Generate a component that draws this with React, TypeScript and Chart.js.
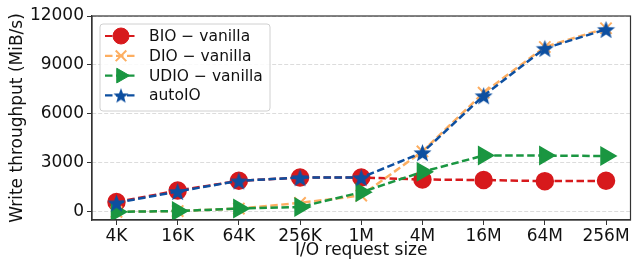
import React, { useEffect, useRef } from "react";
import { Chart, registerables } from "chart.js";
import { drawPoint } from "chart.js/helpers";

Chart.register(...registerables);

const categories = ["4K", "16K", "64K", "256K", "1M", "4M", "16M", "64M", "256M"];
const bioValues = [600, 1300, 1900, 2100, 2100, 1980, 1950, 1880, 1900];
const dioValues = [0, 50, 200, 550, 1000, 3700, 7300, 10100, 11250];
const udioValues = [0, 50, 200, 300, 1200, 2450, 3450, 3450, 3420];
const autoValues = [550, 1250, 1900, 2100, 2100, 3630, 7120, 10020, 11180];
const yTicks = [0, 3000, 6000, 9000, 12000];

const RED = "#d7191c";
const ORANGE = "#fdae61";
const GREEN = "#1a9641";
const BLUE = "#0d4fa0";
const TEXT = "#111";
const FONT = "'DejaVu Sans', sans-serif";

function makeStar(color: string, outer: number): HTMLCanvasElement {
  const size = Math.ceil(outer * 2 + 2);
  const c = document.createElement("canvas");
  c.width = size;
  c.height = size;
  const ctx = c.getContext("2d")!;
  const cx = size / 2;
  const cy = size / 2 + outer * 0.1;
  const inner = outer * 0.42;
  ctx.beginPath();
  for (let i = 0; i < 10; i++) {
    const r = i % 2 === 0 ? outer : inner;
    const a = -Math.PI / 2 + (i * Math.PI) / 5;
    const px = cx + r * Math.cos(a);
    const py = cy + r * Math.sin(a);
    if (i === 0) ctx.moveTo(px, py);
    else ctx.lineTo(px, py);
  }
  ctx.closePath();
  ctx.fillStyle = color;
  ctx.fill();
  return c;
}

export default function App() {
  const ref = useRef<HTMLCanvasElement>(null);
  useEffect(() => {
    document.body.style.margin = "0";
    const star = makeStar(BLUE, 9.5);
    const starSmall = makeStar(BLUE, 8);
    const toXY = (arr: number[]) => arr.map((v, i) => ({ x: i, y: v }));
    const dash = [7.5, 3.5];

    const legendItems = [
      { label: "BIO \u2212 vanilla", color: RED, style: "circle", radius: 8, rot: 0, lw: 1 },
      { label: "DIO \u2212 vanilla", color: ORANGE, style: "crossRot", radius: 7.5, rot: 0, lw: 2 },
      { label: "UDIO \u2212 vanilla", color: GREEN, style: "triangle", radius: 8.5, rot: 90, lw: 1 },
      { label: "autoIO", color: BLUE, style: starSmall, radius: 7, rot: 0, lw: 1 },
    ];

    const framePlugin = {
      id: "frameLegend",
      afterDatasetsDraw(chart: any) {
        const { ctx, chartArea } = chart;
        ctx.save();
        ctx.strokeStyle = "#333";
        ctx.lineWidth = 1.2;
        ctx.strokeRect(chartArea.left, chartArea.top, chartArea.right - chartArea.left, chartArea.bottom - chartArea.top);
        // legend
        const x0 = 100, y0 = 24, w = 170, h = 87, r = 3;
        ctx.beginPath();
        ctx.moveTo(x0 + r, y0);
        ctx.arcTo(x0 + w, y0, x0 + w, y0 + h, r);
        ctx.arcTo(x0 + w, y0 + h, x0, y0 + h, r);
        ctx.arcTo(x0, y0 + h, x0, y0, r);
        ctx.arcTo(x0, y0, x0 + w, y0, r);
        ctx.closePath();
        ctx.fillStyle = "rgba(255,255,255,0.85)";
        ctx.fill();
        ctx.strokeStyle = "#d0d0d0";
        ctx.lineWidth = 1;
        ctx.stroke();
        legendItems.forEach((it, i) => {
          const cy = 36 + i * 19.8;
          ctx.save();
          ctx.strokeStyle = it.color;
          ctx.lineWidth = 2.2;
          ctx.setLineDash(dash);
          ctx.beginPath();
          ctx.moveTo(105, cy);
          ctx.lineTo(137, cy);
          ctx.stroke();
          ctx.setLineDash([]);
          ctx.fillStyle = it.color;
          ctx.strokeStyle = it.color;
          ctx.lineWidth = it.lw;
          drawPoint(ctx, { pointStyle: it.style as any, radius: it.radius, rotation: it.rot, borderWidth: it.lw }, 121, cy);
          ctx.restore();
          ctx.fillStyle = TEXT;
          ctx.font = `15.5px ${FONT}`;
          ctx.textBaseline = "middle";
          ctx.textAlign = "left";
          ctx.fillText(it.label, 149, cy + 1);
        });
        ctx.restore();
      },
    };

    const chart = new Chart(ref.current!, {
      type: "line",
      data: {
        datasets: [
          {
            label: "autoIO",
            data: toXY(autoValues),
            borderColor: BLUE,
            backgroundColor: BLUE,
            borderDash: dash,
            borderWidth: 2.5,
            pointStyle: star as any,
            order: 0,
          },
          {
            label: "UDIO \u2212 vanilla",
            data: toXY(udioValues),
            borderColor: GREEN,
            backgroundColor: GREEN,
            borderDash: dash,
            borderWidth: 2.5,
            pointStyle: "triangle",
            pointRadius: 9,
            pointRotation: 90,
            order: 1,
          },
          {
            label: "DIO \u2212 vanilla",
            data: toXY(dioValues),
            borderColor: ORANGE,
            backgroundColor: ORANGE,
            borderDash: dash,
            borderWidth: 2.5,
            pointStyle: "crossRot",
            pointRadius: 8,
            pointBorderWidth: 2,
            order: 2,
          },
          {
            label: "BIO \u2212 vanilla",
            data: toXY(bioValues),
            borderColor: RED,
            backgroundColor: RED,
            borderDash: dash,
            borderWidth: 2.5,
            pointStyle: "circle",
            pointRadius: 8,
            order: 3,
          },
        ],
      },
      options: {
        animation: false,
        responsive: false,
        maintainAspectRatio: false,
        layout: { padding: { top: 16, right: 1, left: 0, bottom: 0 } },
        plugins: { legend: { display: false }, tooltip: { enabled: false } },
        scales: {
          x: {
            type: "linear",
            min: -0.4,
            max: 8.4,
            afterBuildTicks: (s: any) => {
              s.ticks = categories.map((_, i) => ({ value: i }));
            },
            afterFit: (s: any) => {
              s.height = 41;
            },
            grid: { drawOnChartArea: false, tickLength: 5, tickColor: "#333", tickWidth: 1 },
            border: { display: true, color: "#333", width: 1.2 },
            ticks: {
              callback: (v: any) => categories[v as number] ?? "",
              font: { family: FONT, size: 17 },
              color: TEXT,
              padding: 1,
              maxRotation: 0,
              autoSkip: false,
            },
            title: {
              display: true,
              text: "I/O request size",
              font: { family: FONT, size: 17 },
              color: TEXT,
              padding: { top: 0, bottom: 0 },
            },
          },
          y: {
            type: "linear",
            min: -500,
            max: 12000,
            afterBuildTicks: (s: any) => {
              s.ticks = yTicks.map((v) => ({ value: v }));
            },
            afterFit: (s: any) => {
              s.width = 92;
            },
            grid: {
              drawOnChartArea: true,
              color: "#dcdcdc",
              lineWidth: 1,
              tickLength: 5,
              tickColor: "#333",
              tickWidth: 1,
              tickBorderDash: [],
            },
            border: { display: true, color: "#333", width: 1.2, dash: [4, 2] },
            ticks: {
              font: { family: FONT, size: 17 },
              color: TEXT,
              padding: 3,
              callback: (v: any) => String(v),
            },
            title: {
              display: true,
              text: "Write throughput (MiB/s)",
              font: { family: FONT, size: 17 },
              color: TEXT,
              padding: { top: 7, bottom: 0 },
            },
          },
        },
      },
      plugins: [framePlugin],
    });
    return () => chart.destroy();
  }, []);
  return <canvas ref={ref} width={642} height={261} style={{ display: "block", width: 642, height: 261 }} />;
}
